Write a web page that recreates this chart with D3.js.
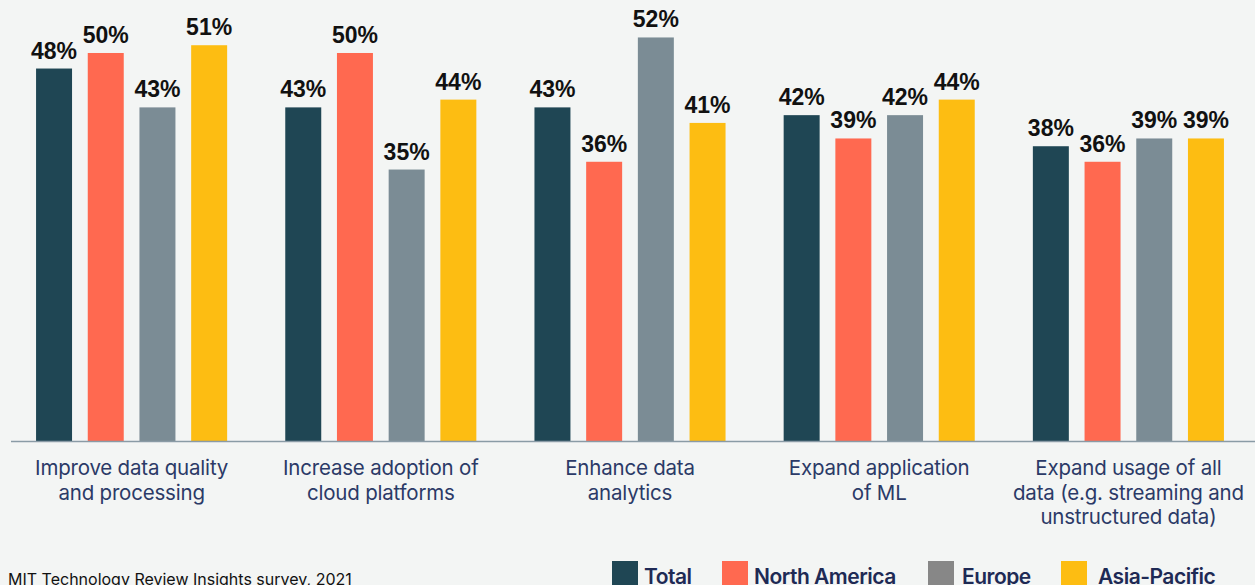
<!DOCTYPE html>
<html>
<head>
<meta charset="utf-8">
<script src="https://cdn.jsdelivr.net/npm/d3@7"></script>
<style>
  html, body { margin: 0; padding: 0; background: #f3f5f4; overflow: hidden; }
</style>
</head>
<body>
<div id="chart"></div>
<script>
const width = 1255;
const height = 585;

const categories = [
  ["Improve data quality", "and processing"],
  ["Increase adoption of", "cloud platforms"],
  ["Enhance data", "analytics"],
  ["Expand application", "of ML"],
  ["Expand usage of all", "data (e.g. streaming and", "unstructured data)"]
];
const series = ["Total", "North America", "Europe", "Asia-Pacific"];
const total = [48, 43, 43, 42, 38];
const northAmerica = [50, 50, 36, 39, 36];
const europe = [43, 35, 52, 42, 39];
const asiaPacific = [51, 44, 41, 44, 39];
const barColors = ["#1f4654", "#ff6950", "#7b8c95", "#fdbd12"];
const legendColors = ["#1f4654", "#ff6950", "#878787", "#fdbd12"];

const values = [total, northAmerica, europe, asiaPacific];
const rows = categories.map((c, i) => ({
  i,
  label: c,
  vals: series.map((s, j) => ({ s, j, v: values[j][i] }))
}));

const baseline = 441.5;

const svg = d3.select("#chart").append("svg")
  .attr("width", width).attr("height", height)
  .style("background", "#f3f5f4")
  .style("display", "block");

const x0 = d3.scaleBand().domain(d3.range(categories.length)).range([7, 1253]);
const x1 = d3.scaleBand().domain(series).range([-103.4, 103.4]).paddingInner(0.304).paddingOuter(0.152);
const y = d3.scaleLinear().domain([0, 56.82]).range([baseline, 0]);

const groups = svg.selectAll("g.grp")
  .data(rows)
  .enter()
  .append("g")
  .attr("class", "grp")
  .attr("transform", d => `translate(${x0(d.i) + x0.bandwidth() / 2},0)`);

groups.selectAll("rect")
  .data(d => d.vals)
  .enter()
  .append("rect")
  .attr("x", d => x1(d.s))
  .attr("y", d => y(d.v))
  .attr("width", x1.bandwidth())
  .attr("height", d => baseline - y(d.v))
  .style("fill", d => barColors[d.j]);

groups.selectAll("text.val")
  .data(d => d.vals)
  .enter()
  .append("text")
  .attr("class", "val")
  .attr("x", d => x1(d.s) + x1.bandwidth() / 2)
  .attr("y", d => y(d.v) - 10)
  .attr("text-anchor", "middle")
  .style("font-family", "'Liberation Sans', Arial, sans-serif")
  .style("font-weight", "bold")
  .style("font-size", "23px")
  .style("fill", "#111")
  .text(d => d.v + "%");

// axis line
svg.append("line")
  .attr("x1", 11).attr("x2", width)
  .attr("y1", baseline).attr("y2", baseline)
  .style("stroke", "#8a9ba6")
  .style("stroke-width", 1.5);

// category labels
groups.append("text")
  .attr("text-anchor", "middle")
  .style("font-family", "Inter, 'Noto Sans', sans-serif")
  .style("font-size", "20.5px")
  .style("letter-spacing", "-0.2px")
  .style("fill", "#2b3a67")
  .selectAll("tspan")
  .data(d => d.label)
  .enter()
  .append("tspan")
  .attr("x", 0)
  .attr("y", (d, k) => 475 + k * 24.5)
  .text(d => d);

// footer
svg.append("text")
  .attr("x", 8).attr("y", 585)
  .style("font-family", "Inter, 'Noto Sans', sans-serif")
  .style("font-size", "16px")
  .style("fill", "#111")
  .text("MIT Technology Review Insights survey, 2021");

// legend
const legendX = [612, 722, 928, 1061];
const legend = svg.selectAll("g.leg")
  .data(series)
  .enter()
  .append("g")
  .attr("class", "leg")
  .attr("transform", (d, i) => `translate(${legendX[i]},561)`);

legend.append("rect")
  .attr("width", 26).attr("height", 26)
  .style("fill", (d, i) => legendColors[i]);

legend.append("text")
  .attr("x", (d, i) => [32, 32, 34, 37][i]).attr("y", 23)
  .style("font-family", "Inter, 'Noto Sans', sans-serif")
  .style("font-weight", 600)
  .style("font-size", "21px")
  .style("letter-spacing", "-0.5px")
  .style("fill", "#1e2a55")
  .text(d => d);
</script>
</body>
</html>
